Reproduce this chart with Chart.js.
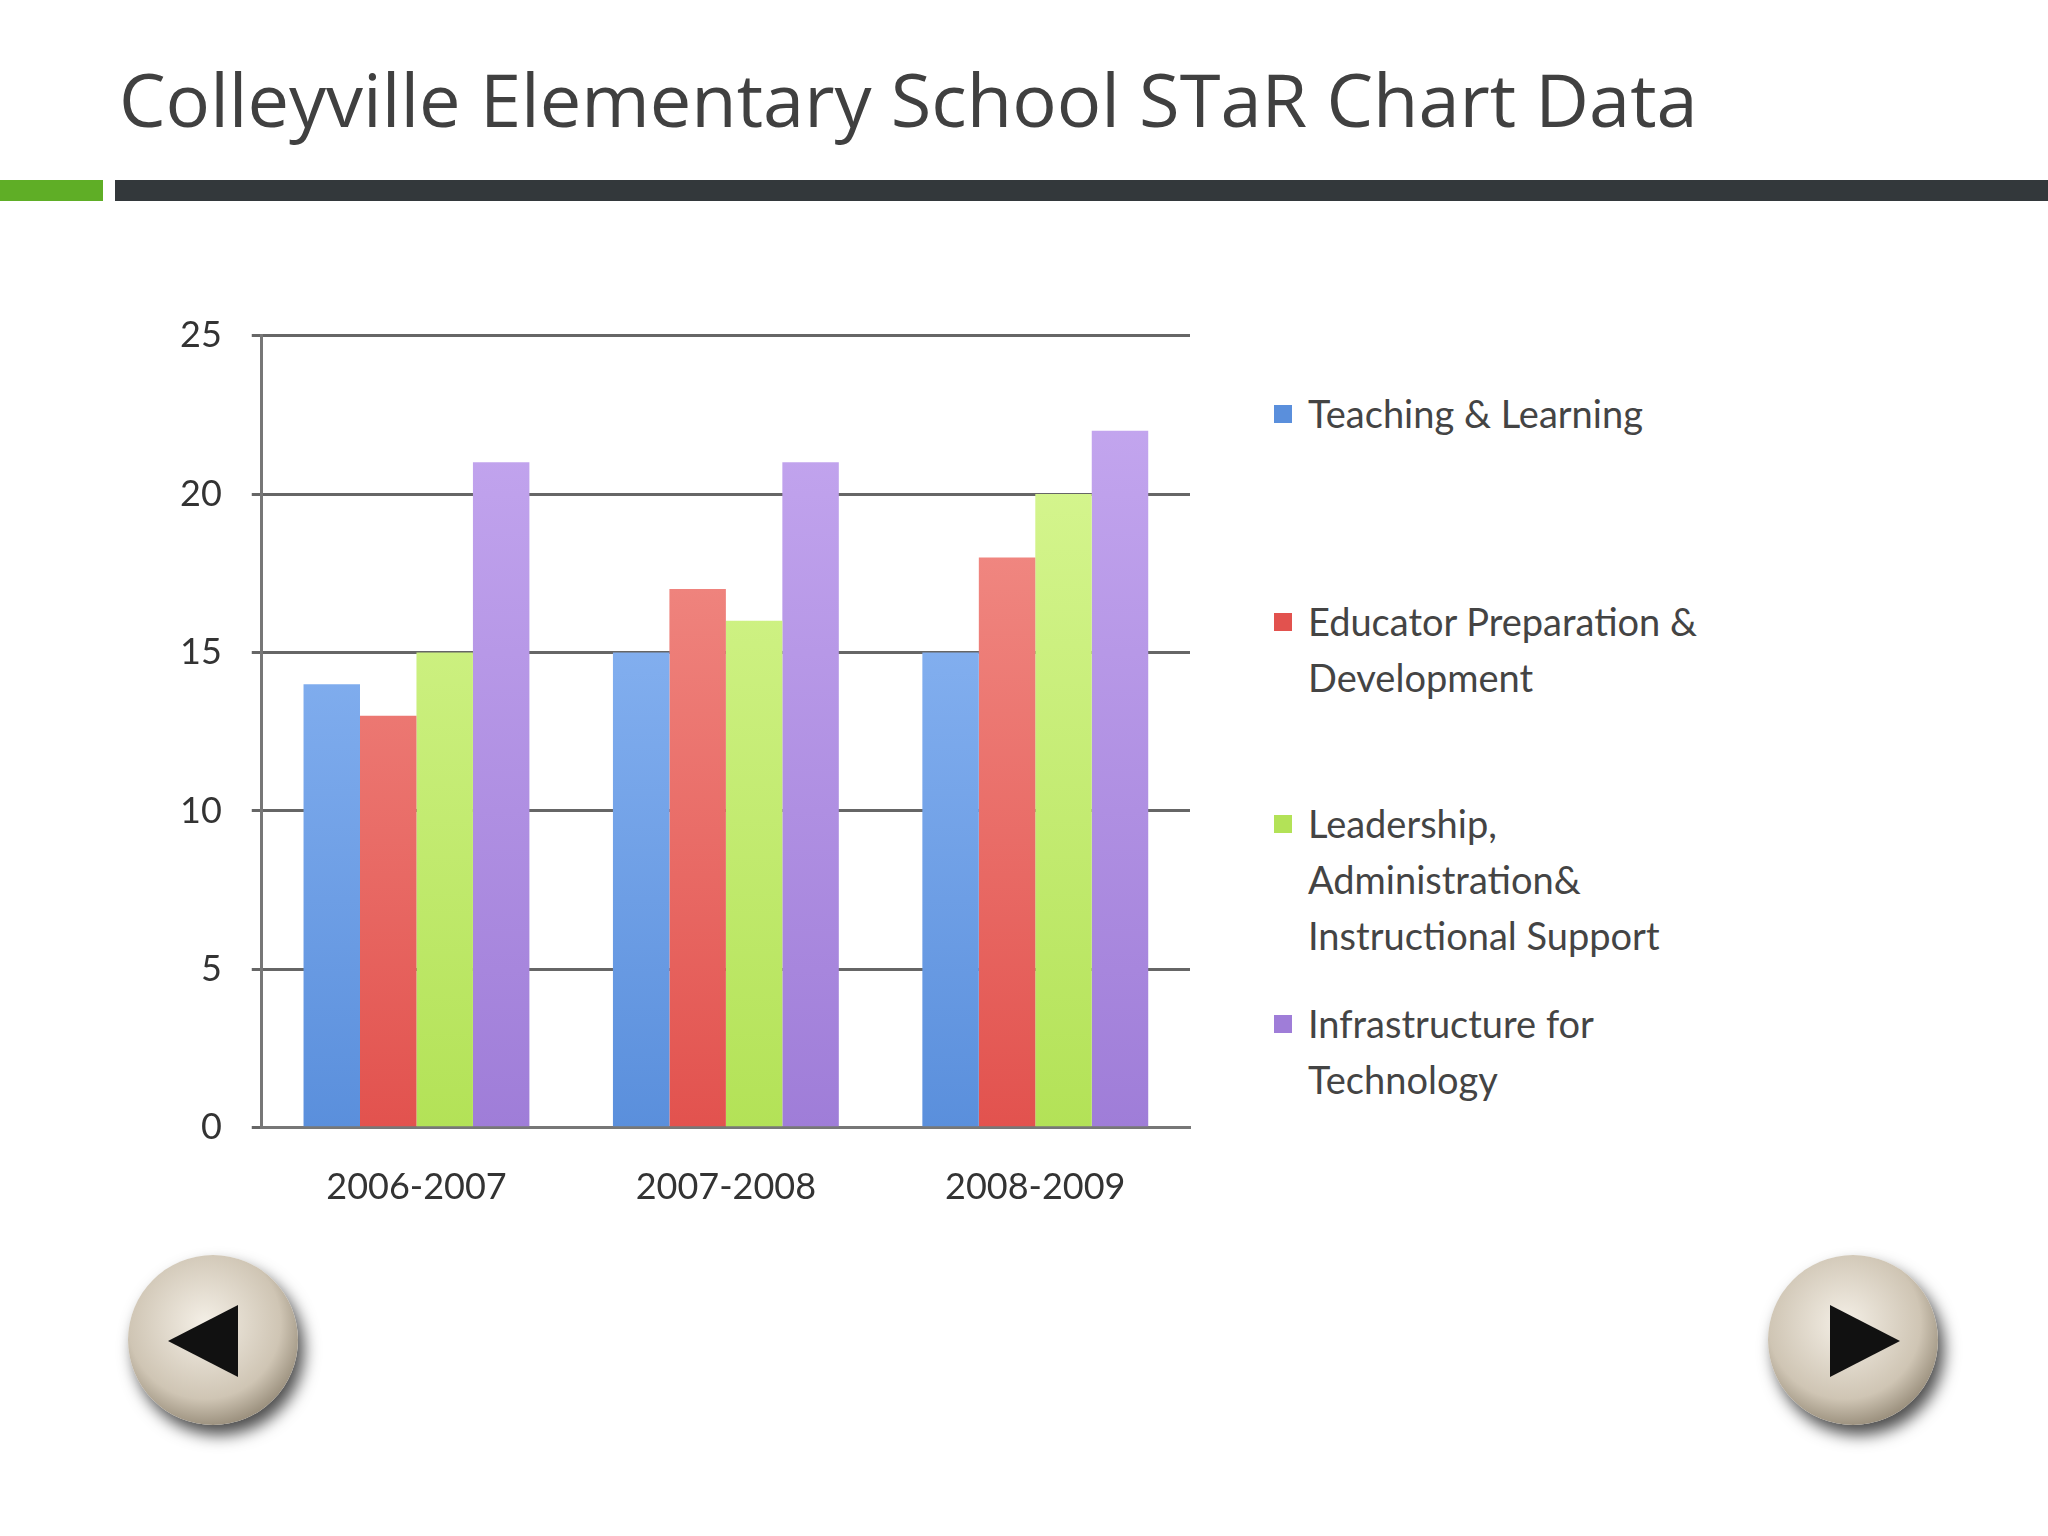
<!DOCTYPE html>
<html>
<head>
<meta charset="utf-8">
<script src="https://cdn.jsdelivr.net/npm/chart.js@4"></script>
<style>
  body { margin: 0; width: 2048px; height: 1536px; background: #fff; font-family: "Open Sans", "Noto Sans", sans-serif; position: relative; overflow: hidden; }
  #title { position: absolute; left: 119px; top: 48px; font-size: 74px; color: #404040; }
  #barGreen { position: absolute; left: 0; top: 180px; width: 103px; height: 21px; background: #5fae26; }
  #barDark { position: absolute; left: 115px; top: 180px; width: 1933px; height: 21px; background: #33383b; }
  #wrap { position: absolute; left: 150px; top: 284px; width: 1050px; height: 955px; }
  #legend { position: absolute; left: 1270px; top: 385px; font-family: Lato, "Open Sans", sans-serif; font-size: 38px; color: #444; }
  .item { position: absolute; left: 0; width: 520px; line-height: 56px; padding-left: 38px; }
  .sw { position: absolute; left: 4px; top: 20px; width: 18px; height: 18px; }
  .nav { position: absolute; width: 170px; height: 170px; border-radius: 50%;
         background: radial-gradient(circle at 45% 40%, #f4efe6 0%, #cfc5b4 55%, #8d826f 80%, #2a2520 100%);
         box-shadow: 6px 10px 16px rgba(0,0,0,0.7); }
  .nav::after { content: ""; position: absolute; top: 50px; width: 0; height: 0; border-top: 36px solid transparent; border-bottom: 36px solid transparent; }
  #prev { left: 128px; top: 1255px; }
  #prev::after { left: 40px; border-right: 70px solid #111; }
  #next { left: 1768px; top: 1255px; }
  #next::after { left: 62px; border-left: 70px solid #111; }
</style>
</head>
<body>
<div id="title">Colleyville Elementary School STaR Chart Data</div>
<div id="barGreen"></div><div id="barDark"></div>
<div id="wrap"><canvas id="chart"></canvas></div>
<div id="legend"></div>
<div class="nav" id="prev"></div>
<div class="nav" id="next"></div>
<script>
const years = ['2006-2007', '2007-2008', '2008-2009'];
const seriesNames = ['Teaching & Learning', 'Educator Preparation & Development', 'Leadership, Administration& Instructional Support', 'Infrastructure for Technology'];
const teaching = [14, 15, 15];
const educator = [13, 17, 18];
const leadership = [15, 16, 20];
const infrastructure = [21, 21, 22];
const colors = ['#5a8fdc', '#e2524e', '#b3e257', '#9f7dd8'];
const lightColors = ['#9cc3fb', '#f59a93', '#dcf99a', '#c7aaf1'];
const legendTops = [0, 208, 410, 610];
const legendHtml = ['Teaching &amp; Learning', 'Educator Preparation &amp;<br>Development', 'Leadership,<br>Administration&amp;<br>Instructional Support', 'Infrastructure for<br>Technology'];

function grad(i) {
  return function (ctx) {
    const c = ctx.chart;
    if (!c.chartArea) return colors[i];
    const g = c.ctx.createLinearGradient(0, c.chartArea.top, 0, c.chartArea.bottom);
    g.addColorStop(0, lightColors[i]);
    g.addColorStop(1, colors[i]);
    return g;
  };
}

const values = [teaching, educator, leadership, infrastructure];
const lg = document.getElementById('legend');
seriesNames.forEach(function (name, i) {
  const d = document.createElement('div');
  d.className = 'item';
  d.style.top = legendTops[i] + 'px';
  d.innerHTML = '<span class="sw" style="background:' + colors[i] + '"></span>' + legendHtml[i];
  lg.appendChild(d);
});

new Chart(document.getElementById('chart'), {
  type: 'bar',
  data: {
    labels: years,
    datasets: values.map(function (v, i) {
      return { label: seriesNames[i], data: v, backgroundColor: grad(i), borderWidth: 0 };
    })
  },
  options: {
    responsive: true,
    maintainAspectRatio: false,
    animation: false,
    categoryPercentage: 0.73,
    barPercentage: 1.0,
    layout: { padding: { top: 20, right: 10 } },
    plugins: { legend: { display: false }, tooltip: { enabled: false } },
    scales: {
      x: {
        grid: { display: false },
        border: { color: '#777', width: 3 },
        ticks: { color: '#333', font: { family: 'Lato', size: 36 }, padding: 30 }
      },
      y: {
        min: 0, max: 25,
        ticks: { stepSize: 5, color: '#333', font: { family: 'Lato', size: 36 }, padding: 30 },
        grid: { color: '#666', lineWidth: 3, tickLength: 10 },
        border: { color: '#777', width: 3 }
      }
    }
  }
});
</script>
</body>
</html>
